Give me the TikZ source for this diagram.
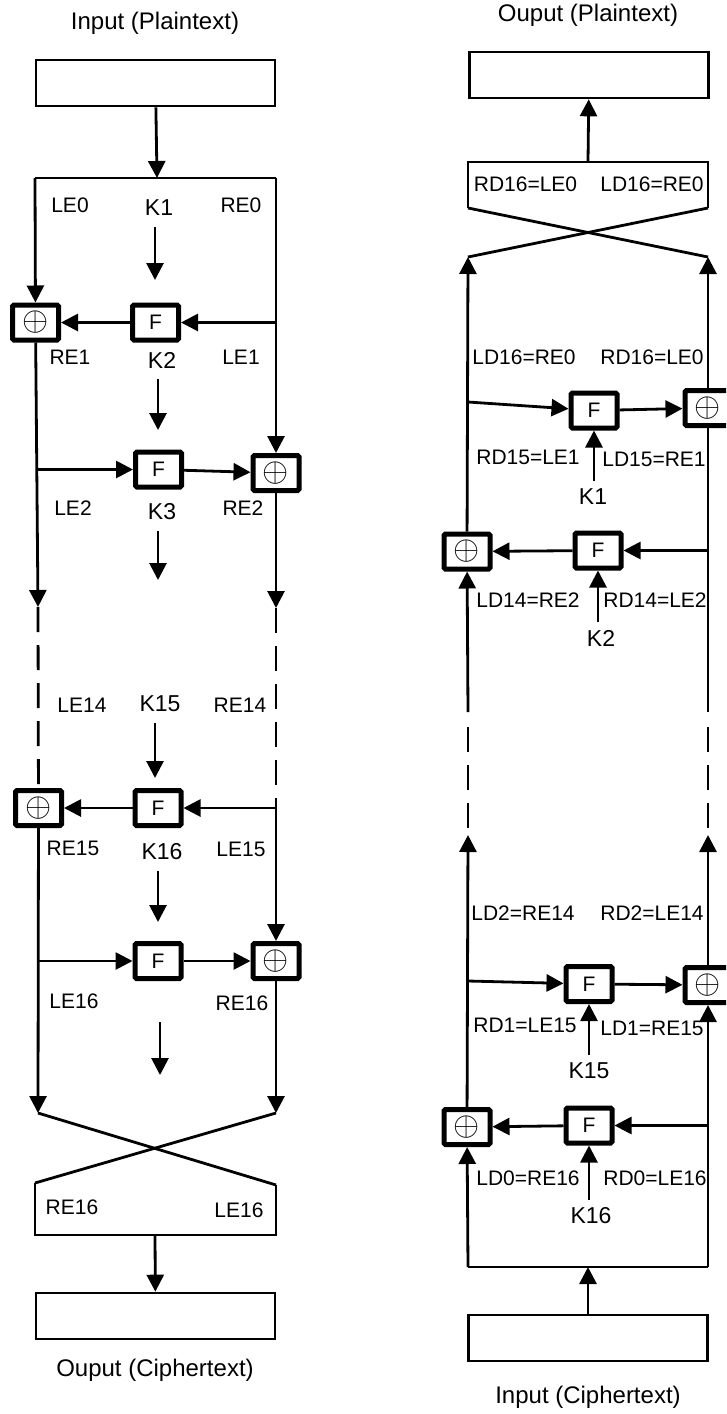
\documentclass[tikz,border=0pt]{standalone}
\usepackage{graphicx}
\usepackage{fontspec}
\setmainfont{Liberation Sans}
\usetikzlibrary{arrows.meta, positioning}
\newcommand{\xorsym}{\scalebox{1.35}{$\oplus$}}

\begin{document}
\begin{tikzpicture}[
    x=1pt, y=-1pt,
    % node styles
    block/.style={rectangle, draw, line width=2.6pt, minimum width=239pt, minimum height=46pt},
    xorbox/.style={rectangle, draw, line width=5pt, rounded corners=1.5pt, fill=white, minimum width=46pt, minimum height=35pt, inner sep=0pt, font=\fontsize{24.88}{28}\selectfont},
    fnbox/.style={xorbox, font=\fontsize{21}{25}\selectfont},
    lbl/.style={inner sep=0pt, font=\fontsize{21}{25}\selectfont},
    keylbl/.style={inner sep=8pt, font=\fontsize{23}{27}\selectfont},
    ttl/.style={inner sep=0pt, font=\fontsize{24}{28}\selectfont},
    % line styles
    wire/.style={line width=2.8pt},
    flow/.style={wire, -{Triangle[length=17pt, width=17pt]}},
    gap/.style={wire, dash pattern=on 25pt off 13pt}
]
\clip (0,0) rectangle (726,1414);

% 1. Encryption (left)
\node[ttl] (ptitle) at (155,23) {Input (Plaintext)};
\node[block] (pin) at (155.5,83) {};
\coordinate (etl) at (35,178);
\coordinate (etr) at (276,178);
\coordinate (etop) at (157,178);

\node[xorbox] (x1) at (35.5,322.5) {\xorsym};
\node[fnbox] (f1) at (155.5,322.5) {F};
\node[fnbox] (f2) at (158.5,469.5) {F};
\node[xorbox] (x2) at (276,473) {\xorsym};
\node[xorbox] (x15) at (38.5,808) {\xorsym};
\node[fnbox] (f15) at (158,808) {F};
\node[fnbox] (f16) at (158,961) {F};
\node[xorbox] (x16) at (276,961) {\xorsym};

% labels
\node[lbl] (le0) at (70,205) {LE0};
\node[keylbl] (k1) at (159,208) {K1};
\node[lbl] (re0) at (241,205) {RE0};
\node[lbl] (re1) at (70,357) {RE1};
\node[keylbl] (k2) at (162,360) {K2};
\node[lbl] (le1) at (241,357) {LE1};
\node[lbl] (le2) at (73,508) {LE2};
\node[keylbl] (k3) at (162,512) {K3};
\node[lbl] (re2) at (243,508) {RE2};
\node[lbl] (le14) at (82,705) {LE14};
\node[keylbl] (k15) at (160,704) {K15};
\node[lbl] (re14) at (240,705) {RE14};
\node[lbl] (re15) at (73,848) {RE15};
\node[keylbl] (k16) at (162,852) {K16};
\node[lbl] (le15) at (241,849) {LE15};
\node[lbl] (le16) at (74,1001) {LE16};
\node[lbl] (re16) at (242,1003) {RE16};
\node[lbl] (sre16) at (72,1207) {RE16};
\node[lbl] (sle16) at (239,1210) {LE16};

% key arrows
\coordinate (k1e) at (155,280);
\coordinate (k2e) at (158,430);
\coordinate (k3e) at (158,580);
\coordinate (k15e) at (155,778);
\coordinate (k16e) at (158,922);
\coordinate (k17s) at (160,1022);
\coordinate (k17e) at (160,1075);
\draw[flow, shorten <=3pt] (k1.south -| k1e) -- (k1e);
\draw[flow, shorten <=3pt] (k2.south -| k2e) -- (k2e);
\draw[flow, shorten <=3pt] (k3.south -| k3e) -- (k3e);
\draw[flow, shorten <=3pt] (k15.south -| k15e) -- (k15e);
\draw[flow, shorten <=3pt] (k16.south -| k16e) -- (k16e);
\draw[flow] (k17s) -- (k17e);

% rounds 1 and 2
\draw[flow] (pin) -- (etop);
\draw[wire] (etl) -- (etr);
\draw[flow] (etl) -- (x1);
\draw[flow] (etr) -- (x2);
\coordinate (eb1) at (276,322.5);
\draw[flow] (eb1) -- (f1);
\draw[flow] (f1) -- (x1);
\coordinate (el2) at (38,607);
\coordinate (er2) at (276,608);
\draw[flow] (x1) -- (el2);
\coordinate (eb2) at (37,469.5);
\draw[flow] (eb2) -- (f2);
\draw[flow] (f2) -- (x2);
\draw[flow] (x2) -- (er2);

% skipped rounds
\coordinate (er15) at (276,786);
\coordinate (er15s) at (276,798);
\draw[gap] (el2) -- (x15);
\draw[gap] (er2) -- (er15);

% rounds 15 and 16
\draw[flow] (er15s) -- (x16);
\coordinate (eb15) at (276,808);
\draw[flow] (eb15) -- (f15);
\draw[flow] (f15) -- (x15);
\coordinate (el16) at (38,1113);
\coordinate (er16) at (276,1113);
\draw[flow] (x15) -- (el16);
\coordinate (eb16) at (39,961);
\draw[flow] (eb16) -- (f16);
\draw[flow] (f16) -- (x16);
\draw[flow] (x16) -- (er16);

% final swap
\coordinate (esl) at (35,1183);
\coordinate (esr) at (276,1185);
\coordinate (ebl) at (35,1235);
\coordinate (ebr) at (276,1235);
\coordinate (ebot) at (155,1235);
\draw[wire] (el16) -- (esr);
\draw[wire] (er16) -- (esl);
\draw[wire] (esl) -- (ebl) -- (ebr) -- (esr);
\node[block] (cout) at (155.5,1316) {};
\draw[flow] (ebot) -- (cout);
\node[ttl] (ctitle) at (155,1370) {Ouput (Ciphertext)};

% 2. Decryption (right)
\node[ttl] (dptitle) at (588,15) {Ouput (Plaintext)};
\node[block] (dpout) at (589,75) {};
\coordinate (dtl) at (468,162);
\coordinate (dtr) at (708,162);
\coordinate (dtm) at (588,162);
\coordinate (dsl) at (468,208);
\coordinate (dsr) at (708,208);
\coordinate (dxl) at (468,257);
\coordinate (dxr) at (708,257);

\node[fnbox] (df1) at (594,410.5) {F};
\node[xorbox] (dx1) at (708,408) {\xorsym};
\node[xorbox] (dx2) at (467,551.5) {\xorsym};
\node[fnbox] (df2) at (598,550.5) {F};
\node[fnbox] (df15) at (589,984) {F};
\node[xorbox] (dx15) at (708,985) {\xorsym};
\node[xorbox] (dx16) at (467,1127) {\xorsym};
\node[fnbox] (df16) at (589,1125.5) {F};

% labels
\node[lbl] (drd16) at (525.5,184) {RD16=LE0};
\node[lbl] (dld16) at (652,184) {LD16=RE0};
\node[lbl] (dld16b) at (524,357) {LD16=RE0};
\node[lbl] (drd16b) at (652,357) {RD16=LE0};
\node[lbl] (drd15) at (528,457) {RD15=LE1};
\node[lbl] (dld15) at (654,459) {LD15=RE1};
\node[keylbl] (dk1) at (593,497) {K1};
\node[lbl] (dld14) at (528,600) {LD14=RE2};
\node[lbl] (drd14) at (655,600) {RD14=LE2};
\node[keylbl] (dk2) at (601,638) {K2};
\node[lbl] (dld2) at (523,913) {LD2=RE14};
\node[lbl] (drd2) at (652,913) {RD2=LE14};
\node[lbl] (drd1) at (525,1025) {RD1=LE15};
\node[lbl] (dld1) at (652,1028) {LD1=RE15};
\node[keylbl] (dk15) at (589,1071) {K15};
\node[lbl] (dld0) at (528,1178) {LD0=RE16};
\node[lbl] (drd0) at (655,1178) {RD0=LE16};
\node[keylbl] (dk16) at (591,1216) {K16};

% key arrows
\draw[flow] (dk1.north -| df1) -- (df1);
\draw[flow] (dk2.north -| df2) -- (df2);
\draw[flow] (dk15.north -| df15) -- (df15);
\draw[flow] (dk16.north -| df16) -- (df16);

% swap at the top
\draw[wire] (dsl) -- (dtl) -- (dtr) -- (dsr);
\draw[wire] (dsl) -- (dxr);
\draw[wire] (dsr) -- (dxl);
\draw[flow] (dtm) -- (dpout);

% rounds with K1 and K2
\draw[flow] (dx2) -- (dxl);
\coordinate (db1) at (468,402);
\draw[flow] (db1) -- (df1);
\draw[flow] (df1) -- (dx1);
\draw[flow] (dx1) -- (dxr);
\coordinate (dl2) at (468,712);
\coordinate (dr2) at (708,712);
\draw[wire] (dr2) -- (dx1);
\coordinate (db2) at (708,550.5);
\draw[flow] (db2) -- (df2);
\draw[flow] (df2) -- (dx2);
\draw[flow] (dl2) -- (dx2);

% skipped rounds
\coordinate (dlg1) at (468,828);
\coordinate (dlg2) at (468,727);
\coordinate (drg1) at (708,828);
\coordinate (drg2) at (708,727);
\draw[gap] (dlg1) -- (dlg2);
\draw[gap] (drg1) -- (drg2);

% rounds with K15 and K16
\coordinate (dl15) at (468,835);
\coordinate (dr15) at (708,835);
\draw[flow] (dx16) -- (dl15);
\coordinate (db15) at (468,981);
\draw[flow] (db15) -- (df15);
\draw[flow] (df15) -- (dx15);
\draw[flow] (dx15) -- (dr15);
\coordinate (dfl) at (468,1267);
\coordinate (dfr) at (708,1267);
\coordinate (dfm) at (588,1267);
\draw[wire] (dfl) -- (dfr);
\draw[flow] (dfr) -- (dx15);
\coordinate (db16) at (708,1125.5);
\draw[flow] (db16) -- (df16);
\draw[flow] (df16) -- (dx16);
\draw[flow] (dfl) -- (dx16);
\node[block] (dcin) at (588,1338) {};
\draw[flow] (dcin) -- (dfm);
\node[ttl] (dctitle) at (588,1397) {Input (Ciphertext)};

\end{tikzpicture}
\end{document}
